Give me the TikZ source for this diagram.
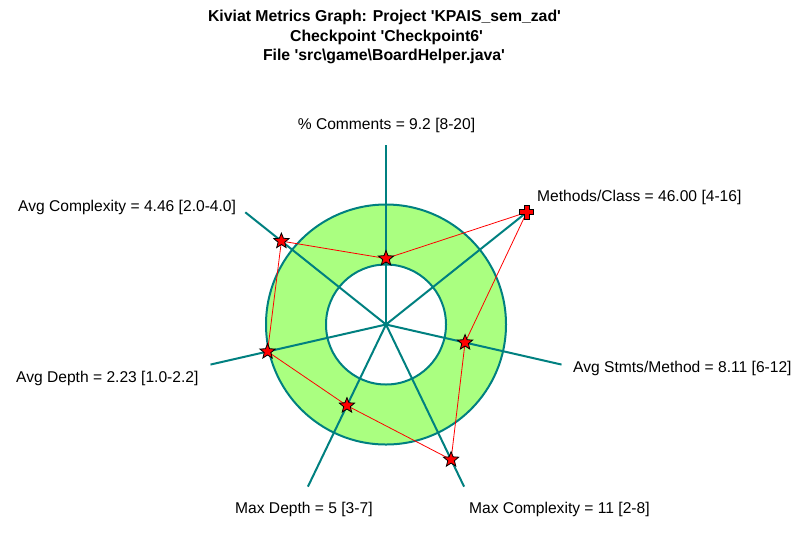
\documentclass[tikz,border=0pt]{standalone}
\usepackage{fontspec}
\setmainfont{Liberation Sans}
\usetikzlibrary{shapes.geometric}
\definecolor{spoke}{RGB}{0,128,128}
\definecolor{ring}{RGB}{170,255,128}
\newcommand{\sq}{\textquotesingle}
\begin{document}
\begin{tikzpicture}[x=1pt,y=1pt,
  spokeline/.style={draw=spoke,line width=2pt},
  ringline/.style={draw=spoke,line width=2pt},
  dataline/.style={draw=red,line width=0.8pt},
  starmark/.style={star,star points=5,star point ratio=2.3,minimum size=16pt,inner sep=0pt,fill=red,draw=black,line width=0.8pt},
  lbl/.style={inner sep=0pt,font=\fontsize{15.6}{18}\selectfont},
  ttl/.style={inner sep=0pt,anchor=base,font=\fontsize{15.8}{19}\selectfont\bfseries}]
\useasboundingbox (0,-542) rectangle (805,0);
\fill[white] (0,-542) rectangle (805,0);
% title
\node[ttl] (t1) at (384.5,-21) {Kiviat Metrics Graph: Project \sq KPAIS\_sem\_zad\sq};
\node[ttl] (t2) at (386.5,-41) {Checkpoint \sq Checkpoint6\sq};
\node[ttl] (t3) at (384,-60.5) {File \sq src\textbackslash game\textbackslash BoardHelper.java\sq};
% geometry
\coordinate (C) at (386,-324.5);
\fill[ring,even odd rule] (C) circle (120) (C) circle (60);
\draw[ringline] (C) circle (120);
\draw[ringline] (C) circle (60);
% spoke ends
\coordinate (e1) at ([shift={(90:180)}]C);
\coordinate (e2) at ([shift={(38.571:180)}]C);
\coordinate (e3) at ([shift={(-12.857:180)}]C);
\coordinate (e4) at ([shift={(-64.286:180)}]C);
\coordinate (e5) at ([shift={(-115.714:180)}]C);
\coordinate (e6) at ([shift={(-167.143:180)}]C);
\coordinate (e7) at ([shift={(141.429:180)}]C);
\foreach \e in {e1,e2,e3,e4,e5,e6,e7} \draw[spokeline] (C) -- (\e);
% data points
\coordinate (p1) at ([shift={(90:66)}]C);
\coordinate (p2) at (e2);
\coordinate (p3) at ([shift={(-12.857:81.1)}]C);
\coordinate (p4) at ([shift={(-64.286:150)}]C);
\coordinate (p5) at ([shift={(-115.714:90)}]C);
\coordinate (p6) at ([shift={(-167.143:121.5)}]C);
\coordinate (p7) at ([shift={(141.429:133.8)}]C);
\draw[dataline] (p1) -- (p2) -- (p3) -- (p4) -- (p5) -- (p6) -- (p7) -- cycle;
\node[starmark] (s1) at (p1) {};
\node[starmark] (s3) at (p3) {};
\node[starmark] (s4) at (p4) {};
\node[starmark] (s5) at (p5) {};
\node[starmark] (s6) at (p6) {};
\node[starmark] (s7) at (p7) {};
\fill[red,draw=black,line width=0.8pt,shift={(e2)}]
  (-2.5,-7) -- (2.5,-7) -- (2.5,-2.5) -- (7,-2.5) -- (7,2.5) -- (2.5,2.5) -- (2.5,7)
  -- (-2.5,7) -- (-2.5,2.5) -- (-7,2.5) -- (-7,-2.5) -- (-2.5,-2.5) -- cycle;
% labels
\node[lbl,anchor=base] (l1) at (386.5,-129) {\% Comments = 9.2 [8-20]};
\node[lbl,anchor=base west] (l2) at (537,-201.5) {Methods/Class = 46.00 [4-16]};
\node[lbl,anchor=base west] (l3) at (573,-372) {Avg Stmts/Method = 8.11 [6-12]};
\node[lbl,anchor=base west] (l4) at (469,-513) {Max Complexity = 11 [2-8]};
\node[lbl,anchor=base west] (l5) at (235,-513) {Max Depth = 5 [3-7]};
\node[lbl,anchor=base west] (l6) at (16,-382) {Avg Depth = 2.23 [1.0-2.2]};
\node[lbl,anchor=base west] (l7) at (18,-211) {Avg Complexity = 4.46 [2.0-4.0]};
\end{tikzpicture}
\end{document}
